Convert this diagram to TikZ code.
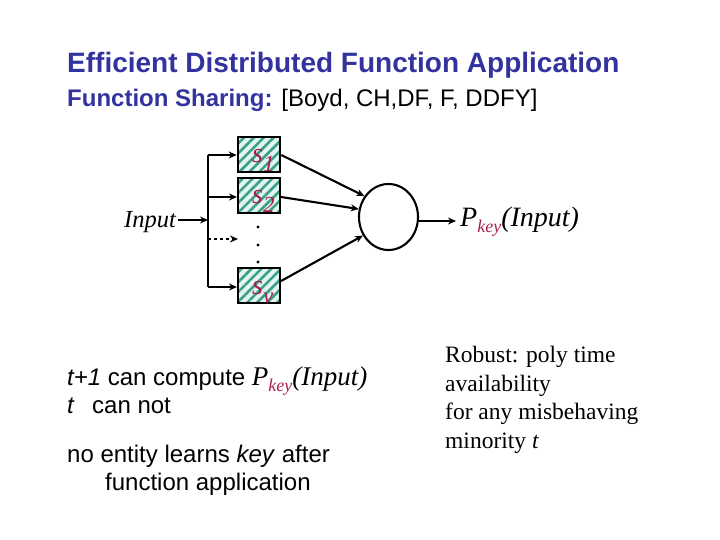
\documentclass[tikz,border=0pt]{standalone}
\usepackage{fontspec}
\setmainfont{Liberation Serif}
\setsansfont{Liberation Sans}
\usetikzlibrary{arrows.meta,patterns.meta,shapes.geometric}
\definecolor{titleblue}{HTML}{3333A0}
\definecolor{crim}{HTML}{A8204A}
\definecolor{hatchc}{HTML}{3AA08A}
\definecolor{hatchbg}{HTML}{E4F4EF}
\newcommand{\Pkey}[1]{{\itshape P\raisebox{-6pt}{\fontsize{18}{18}\selectfont\color{crim}key}(Input)}}
\begin{document}
\begin{tikzpicture}[x=1pt,y=-1pt,
  txt/.style={inner sep=0pt,anchor=base west},
  sbox/.style={draw,line width=2.1pt,minimum width=42pt,minimum height=35pt,inner sep=0pt,
    preaction={fill=hatchbg},pattern={Lines[angle=45,distance=7pt,line width=2.6pt]},pattern color=hatchc},
  slabel/.style={inner sep=0pt,anchor=base west,text=crim,font=\fontsize{28}{28}\selectfont\itshape},
  conn/.style={line width=2.1pt},
  arr/.style={line width=2.1pt,-{Stealth[length=8pt,width=7pt]}},
  dot/.style={circle,fill=black,inner sep=0pt,minimum size=3.4pt},
  body/.style={txt,font=\fontsize{24}{28}\selectfont\sffamily}]
\useasboundingbox (0,0) rectangle (720,540);
% titles
\node[txt,text=titleblue,font=\fontsize{28}{32}\selectfont\sffamily\bfseries] (title) at (67,73) {Efficient Distributed Function Application};
\node[txt,font=\fontsize{24}{28}\selectfont\sffamily] (sub) at (67,107) {{\bfseries\color{titleblue}Function Sharing:} [Boyd, CH,DF, F, DDFY]};
% boxes
\node[sbox] (s1) at (259,154.5) {};
\node[sbox] (s2) at (259,195.5) {};
\node[sbox] (sv) at (259,285.5) {};
\node[slabel] (l1) at (252,163) {s\raisebox{-9pt}{\fontsize{23}{23}\selectfont 1}};
\node[slabel] (l2) at (252,204) {s\raisebox{-9pt}{\fontsize{23}{23}\selectfont 2}};
\node[slabel] (lv) at (252,294) {s\raisebox{-9pt}{\fontsize{23}{23}\selectfont v}};
% dots
\node[dot] (d1) at (258,227) {};
\node[dot] (d2) at (258,245) {};
\node[dot] (d3) at (258,262) {};
% input
\node[txt,font=\fontsize{24.5}{24}\selectfont\itshape] (in) at (124,227) {Input};
\coordinate (j) at (208,220);
\coordinate (jt) at (208,155);
\coordinate (jb) at (208,287);
\coordinate (jd) at (208,239);
\coordinate (d) at (238,239);
\draw[arr] (in.east |- j) ++(2,0) -- (j);
\draw[conn] (jt) -- (jb);
\draw[arr] (jt) -- (s1.west |- jt);
\draw[arr] (208,197) -- (s2.west |- 0,197);
\draw[arr] (jb) -- (sv.west |- jb);
\draw[arr,dashed] (jd) -- (d);
% circle
\node[ellipse,draw,line width=2.1pt,minimum width=59pt,minimum height=66pt,inner sep=0pt] (c) at (388.5,217) {};
\draw[arr] (s1.east |- 0,155) -- (c.139);
\draw[arr] (s2.east |- 0,197) -- (c.165);
\draw[arr] (sv.east |- 0,281) -- (c.216);
\coordinate (out) at (456,221);
\draw[arr] (c.east |- out) -- (out);
\node[txt,font=\fontsize{28}{28}\selectfont] (pk) at (460,226) {\Pkey{}};
% lower left text
\node[body] (a1) at (67,385) {\textit{t+1} can compute {\rmfamily\fontsize{27}{27}\selectfont\Pkey{}}};
\node[body] (a2) at (67,413) {\textit{t}};
\node[body] (a2b) at (92,413) {can not};
\node[body] (a3) at (67,462) {no entity learns \textit{key} after};
\node[body] (a4) at (105,490) {function application};
% right text
\node[txt,font=\fontsize{23.5}{28.5}\selectfont,align=left,anchor=north west] (r) at (445,346) {Robust: poly time\\availability\\for any misbehaving\\minority \textit{t}};
\end{tikzpicture}
\end{document}
